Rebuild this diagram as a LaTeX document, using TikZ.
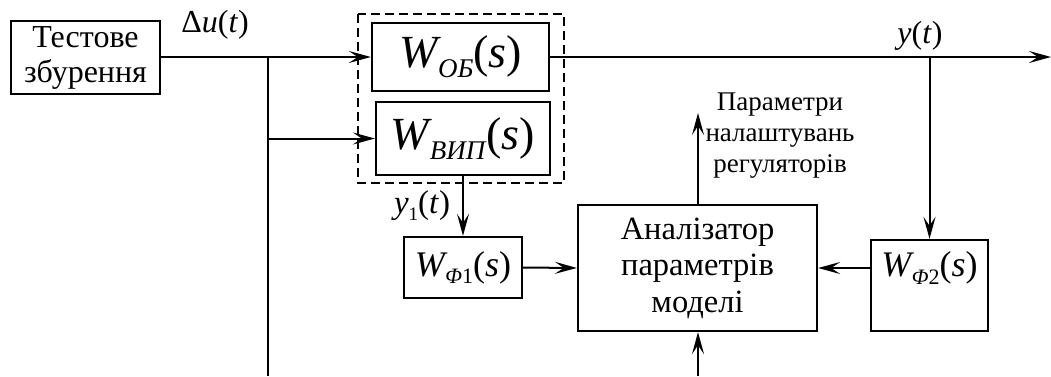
\documentclass[tikz,border=0pt]{standalone}
\usepackage{fontspec}
\setmainfont{Liberation Serif}
\usetikzlibrary{arrows.meta}
\newcommand\Wexpr[4]{{\fontsize{#1}{#1}\selectfont\textit{W}\kern-0.06em\raisebox{-#3}{\fontsize{#2}{#2}\selectfont #4}(\textit{s})}}
\begin{document}
\begin{tikzpicture}[x=1pt,y=-1pt,
  blk/.style={draw,line width=2.3pt,inner sep=0pt,align=center},
  arr/.style={line width=2pt,-{Stealth[length=22pt,width=12pt,inset=9pt]}},
  ln/.style={line width=2pt},
  thick main/.style={line width=2.8pt}]
\useasboundingbox (0,0) rectangle (1051,376);
% blocks
\node[blk,minimum width=149pt,minimum height=73pt,font=\fontsize{32}{35}\selectfont] (test) at (85.5,57.5) {Тестове\\збурення};
\node[blk,minimum width=177pt,minimum height=68pt] (wob) at (460.5,57) {\Wexpr{46}{27}{0.22em}{\textit{ОБ}}};
\node[blk,minimum width=174pt,minimum height=73pt] (wvip) at (463,138.5) {\Wexpr{46}{27}{0.22em}{\textit{ВИП}}};
\draw[line width=1.9pt,dash pattern=on 9pt off 5pt] (358,14) rectangle (564,183);
\node[blk,minimum width=118pt,minimum height=61pt] (wf1) at (463,267.5) {\Wexpr{36}{22}{0.22em}{\textit{Φ}1}};
\node[blk,minimum width=239pt,minimum height=126pt,font=\fontsize{32.5}{36.5}\selectfont] (an) at (697.5,268) {Аналізатор\\параметрів\\моделі};
\node[blk,minimum width=117pt,minimum height=91pt] (wf2) at (929.5,285.5) {};
\node[inner sep=0pt] (wf2t) at (929.5,268) {\Wexpr{36}{22}{0.22em}{\textit{Φ}2}};
% labels
\node[inner sep=0pt,font=\fontsize{32}{32}\selectfont] (du) at (215,25) {Δ\textit{u}(\textit{t})};
\node[inner sep=0pt,font=\fontsize{32}{32}\selectfont] (yt) at (920,36) {\textit{y}(\textit{t})};
\node[inner sep=0pt,font=\fontsize{33}{33}\selectfont] (y1t) at (422,206) {\textit{y}\raisebox{-0.2em}{\fontsize{19}{19}\selectfont 1}(\textit{t})};
\node[inner sep=0pt,align=center,font=\fontsize{27}{31}\selectfont] (par) at (780,136) {Параметри\\налаштувань\\регуляторів};
% coordinates
\coordinate (b1) at (268,57);
\coordinate (b2) at (268,138.5);
\coordinate (bot1) at (268,376);
\coordinate (yout) at (1051,57);
\coordinate (b3) at (929.5,57);
\coordinate (top) at (698,113);
\coordinate (bot2) at (698,376);
% connectors
\draw[thick main] (test.east |- b1) -- (b1);
\draw[thick main] (b1) -- (b2);
\draw[arr] (b1) -- (wob.west);
\draw[arr] (b2) -- (wvip.west);
\draw[ln] (b2) -- (bot1);
\draw[arr,line width=2.4pt] (wob.east) -- (yout);
\draw[arr] (b3) -- (wf2.north);
\draw[arr] (wvip.south) -- (wf1.north);
\draw[arr] (wf1.east) -- (an.west);
\draw[arr] (wf2.west |- an.east) -- (an.east);
\draw[arr] (an.north -| top) -- (top);
\draw[arr] (bot2) -- (an.south -| bot2);
\end{tikzpicture}
\end{document}
